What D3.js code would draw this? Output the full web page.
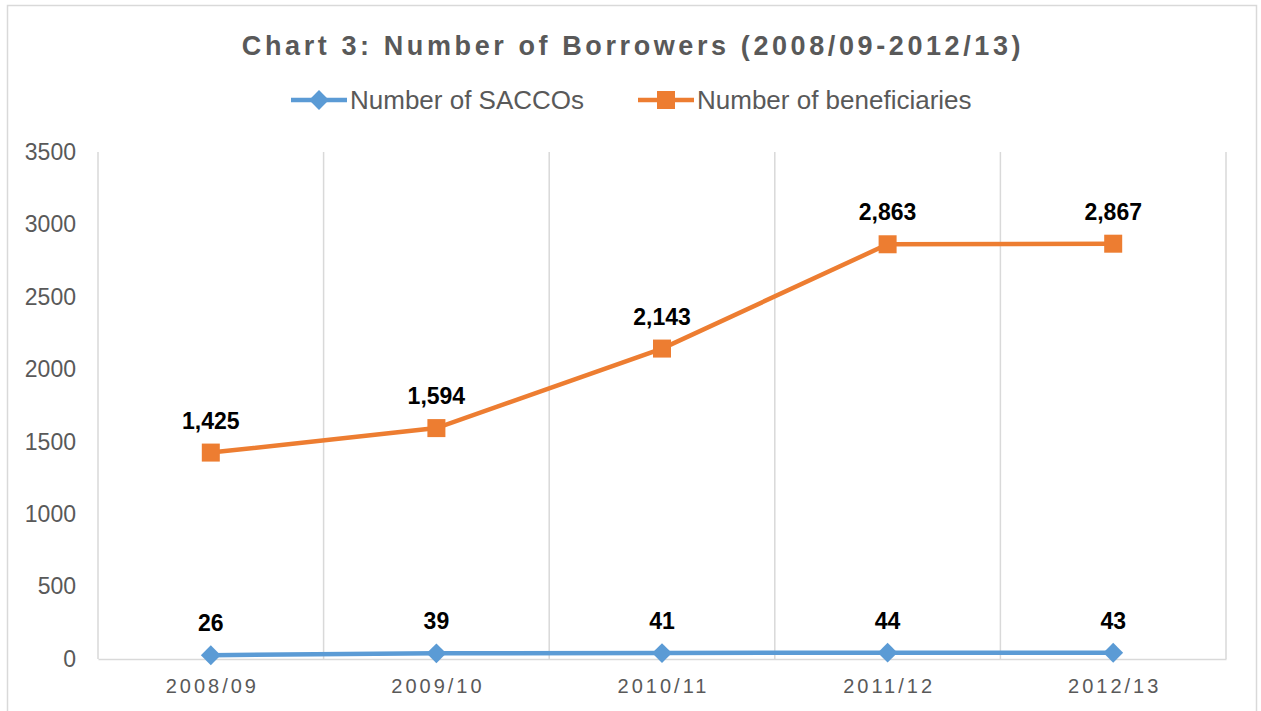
<!DOCTYPE html>
<html>
<head>
<meta charset="utf-8">
<script src="https://cdn.jsdelivr.net/npm/d3@7"></script>
<style>
  body { margin: 0; background: #fff; }
  svg { font-family: "Liberation Sans", Arial, sans-serif; }
</style>
</head>
<body>
<svg id="chart"></svg>
<script>
const years = ['2008/09', '2009/10', '2010/11', '2011/12', '2012/13'];
const saccos = [26, 39, 41, 44, 43];
const beneficiaries = [1425, 1594, 2143, 2863, 2867];
const yTicks = [0, 500, 1000, 1500, 2000, 2500, 3000, 3500];

const W = 1261, H = 711;
const svg = d3.select('#chart').attr('width', W).attr('height', H);

// outer frame
svg.append('rect')
  .attr('x', 7.5).attr('y', 5.5)
  .attr('width', 1249).attr('height', 730)
  .attr('fill', 'none').attr('stroke', '#d9d9d9').attr('stroke-width', 1.5);

const margin = { top: 152, right: 35, bottom: 52, left: 98 };
const width = W - margin.left - margin.right;
const height = H - margin.top - margin.bottom;

const x = d3.scaleBand().domain(years).range([0, width]);
const y = d3.scaleLinear().domain([0, 3500]).range([height, 0]);

const g = svg.append('g')
  .attr('transform', `translate(${margin.left},${margin.top})`);

// vertical gridlines at category boundaries
const bounds = years.map(d => x(d)).concat([width]);
g.selectAll('line.grid')
  .data(bounds)
  .enter()
  .append('line')
  .attr('class', 'grid')
  .attr('x1', d => d).attr('x2', d => d)
  .attr('y1', 0).attr('y2', height)
  .attr('stroke', '#d9d9d9').attr('stroke-width', 1.5);

// x axis
const xAxis = g.append('g')
  .attr('transform', `translate(0,${height})`)
  .call(d3.axisBottom(x).tickSize(0).tickPadding(20));
xAxis.select('.domain').attr('stroke', '#d9d9d9').attr('stroke-width', 1.5);
xAxis.selectAll('text')
  .style('font-size', '20px')
  .style('letter-spacing', '3px')
  .attr('dx', '1.5px')
  .attr('fill', '#595959');

// y axis
const yAxis = g.append('g')
  .call(d3.axisLeft(y).tickValues(yTicks).tickFormat(d3.format('d')).tickSize(0).tickPadding(22));
yAxis.select('.domain').remove();
yAxis.selectAll('text')
  .style('font-size', '23px')
  .attr('fill', '#595959');

const cx = d => x(d) + x.bandwidth() / 2;

function drawSeries(values, color) {
  const line = d3.line().x((v, i) => cx(years[i])).y(v => y(v));
  g.append('path')
    .datum(values)
    .attr('d', line)
    .attr('fill', 'none')
    .attr('stroke', color)
    .attr('stroke-width', 4.5);
}

function drawLabels(values) {
  g.selectAll(null)
    .data(values)
    .enter()
    .append('text')
    .attr('x', (v, i) => cx(years[i]))
    .attr('y', v => y(v) - 24)
    .attr('text-anchor', 'middle')
    .style('font-size', '23px')
    .style('font-weight', 'bold')
    .attr('fill', '#000')
    .text(v => d3.format(',')(v));
}

// SACCOs: line + diamonds
drawSeries(saccos, '#5b9bd5');
g.selectAll('rect.dia')
  .data(saccos)
  .enter()
  .append('rect')
  .attr('class', 'dia')
  .attr('x', -7).attr('y', -7).attr('width', 14).attr('height', 14)
  .attr('transform', (v, i) => `translate(${cx(years[i])},${y(v)}) rotate(45)`)
  .attr('fill', '#5b9bd5');
drawLabels(saccos);

// beneficiaries: line + squares
drawSeries(beneficiaries, '#ed7d31');
g.selectAll('rect.sq')
  .data(beneficiaries)
  .enter()
  .append('rect')
  .attr('class', 'sq')
  .attr('x', -9).attr('y', -9).attr('width', 18).attr('height', 18)
  .attr('transform', (v, i) => `translate(${cx(years[i])},${y(v)})`)
  .attr('fill', '#ed7d31');
drawLabels(beneficiaries);

// title
svg.append('text')
  .attr('x', 633).attr('y', 55)
  .attr('text-anchor', 'middle')
  .style('font-size', '27px')
  .style('font-weight', 'bold')
  .style('letter-spacing', '3.6px')
  .attr('fill', '#595959')
  .text('Chart 3: Number of Borrowers (2008/09-2012/13)');

// legend
const legend = [
  { name: 'Number of SACCOs', color: '#5b9bd5', type: 'diamond', x: 291 },
  { name: 'Number of beneficiaries', color: '#ed7d31', type: 'square', x: 638 }
];
const lg = svg.selectAll('g.legend')
  .data(legend)
  .enter()
  .append('g')
  .attr('class', 'legend')
  .attr('transform', d => `translate(${d.x},100)`);
lg.append('line')
  .attr('x1', 0).attr('x2', 56)
  .attr('stroke', d => d.color).attr('stroke-width', 4.5);
lg.append('rect')
  .attr('x', d => d.type === 'square' ? -9 : -7)
  .attr('y', d => d.type === 'square' ? -9 : -7)
  .attr('width', d => d.type === 'square' ? 18 : 14)
  .attr('height', d => d.type === 'square' ? 18 : 14)
  .attr('transform', d => d.type === 'square' ? 'translate(28,0)' : 'translate(28,0) rotate(45)')
  .attr('fill', d => d.color);
lg.append('text')
  .attr('x', 59).attr('y', 9)
  .style('font-size', '26px')
  .attr('fill', '#595959')
  .text(d => d.name);
</script>
</body>
</html>
